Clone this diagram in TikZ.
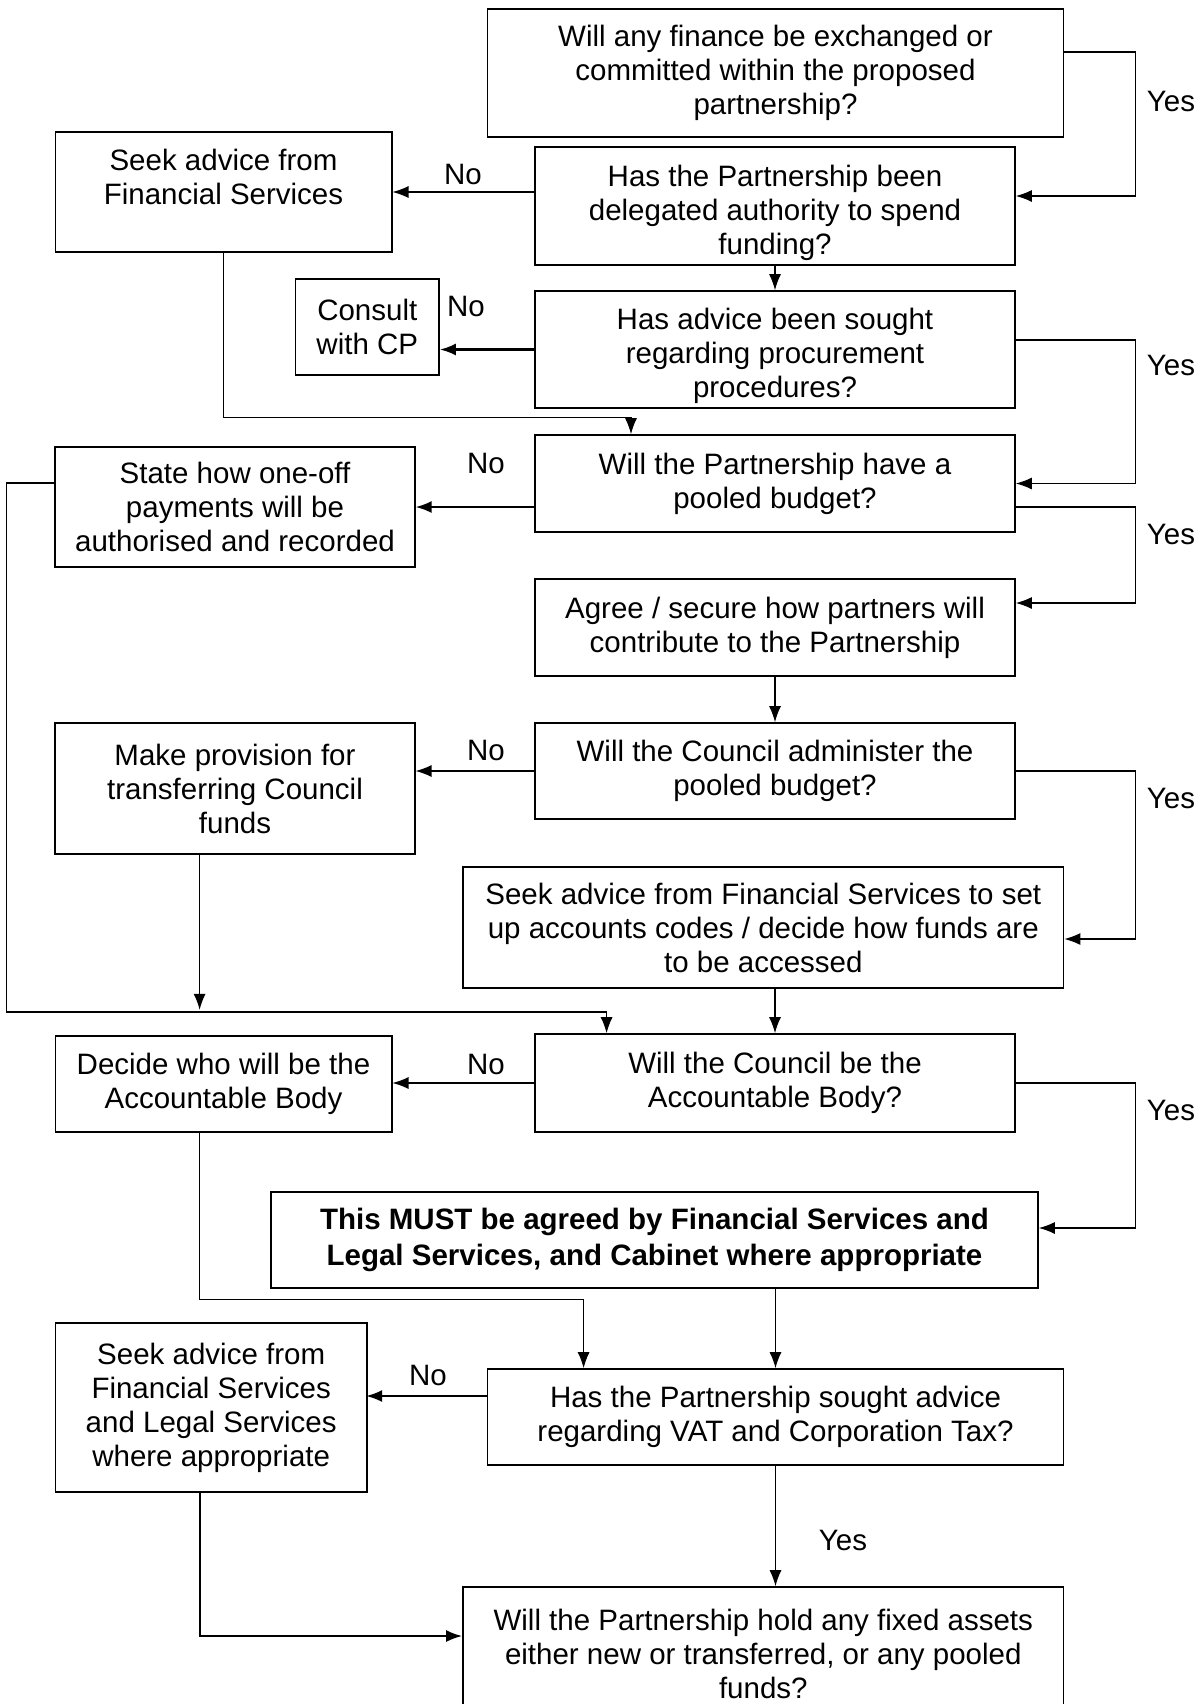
\documentclass[tikz,border=0pt]{standalone}
\usepackage{fontspec}
\setmainfont{Liberation Sans}
\usetikzlibrary{arrows.meta}
\begin{document}
\begin{tikzpicture}[x=0.5pt, y=-0.5pt, >={Latex[length=8pt,width=6pt]}]
    \tikzstyle{box}=[draw, line width=0.85pt, align=center, inner sep=0pt, font=\fontsize{14.75}{17}\selectfont]
    \tikzstyle{boldbox}=[box, font=\fontsize{14.75}{18}\selectfont\bfseries]
    \tikzstyle{lbl}=[font=\fontsize{14.75}{17}\selectfont]
    \tikzstyle{link}=[->, line width=0.6pt]
    \tikzstyle{heavy}=[->, line width=1.1pt]
    \useasboundingbox (0,0) rectangle (1204,1704);
    % questions down the right hand column
    \node[box, minimum width=288pt, minimum height=64pt] (q1) at (775.5,73) {Will any finance be exchanged or\\committed within the proposed\\partnership?};
    \node[box, minimum width=240pt, minimum height=59pt] (q2) at (775,206) {\rule{0pt}{17.5pt}Has the Partnership been\\delegated authority to spend\\funding?};
    \node[box, minimum width=240pt, minimum height=58.5pt] (q3) at (775,349.5) {\rule{0pt}{17.5pt}Has advice been sought\\regarding procurement\\procedures?};
    \node[box, minimum width=240pt, minimum height=48.5pt] (q4) at (775,483.5) {Will the Partnership have a\\pooled budget?};
    \node[box, minimum width=240pt, minimum height=48.5pt] (a1) at (775,627.5) {Agree / secure how partners will\\contribute to the Partnership};
    \node[box, minimum width=240pt, minimum height=48pt] (q5) at (775,771) {Will the Council administer the\\pooled budget?};
    \node[box, minimum width=300.25pt, minimum height=60.5pt] (b1) at (763.3,927.5) {Seek advice from Financial Services to set\\up accounts codes / decide how funds are\\to be accessed};
    \node[box, minimum width=240pt, minimum height=49pt] (q6) at (775,1083) {Will the Council be the\\Accountable Body?};
    \node[boldbox, minimum width=383.5pt, minimum height=48pt] (m2) at (654.5,1240) {This MUST be agreed by Financial Services and\\Legal Services, and Cabinet where appropriate};
    \node[box, minimum width=288pt, minimum height=48pt] (q7) at (775.5,1417) {Has the Partnership sought advice\\regarding VAT and Corporation Tax?};
    \node[box, minimum width=300.25pt, minimum height=66.5pt] (q8) at (763.3,1653.5) {Will the Partnership hold any fixed assets\\either new or transferred, or any pooled\\funds?};
    % actions on the left
    \node[box, minimum width=168.15pt, minimum height=60pt] (f1) at (223.5,192) {Seek advice from\\Financial Services\\[-7pt]\strut};
    \node[box, minimum width=71.7pt, minimum height=48pt] (cp) at (367.3,327) {Consult\\with CP};
    \node[box, minimum width=179.7pt, minimum height=60pt] (s1) at (235,507) {State how one-off\\payments will be\\authorised and recorded};
    \node[box, minimum width=179.7pt, minimum height=65.5pt] (m1) at (235,788.5) {Make provision for\\transferring Council\\funds};
    \node[box, minimum width=168.15pt, minimum height=48pt] (d1) at (223.5,1084) {Decide who will be the\\Accountable Body};
    \node[box, minimum width=155.85pt, minimum height=84.5pt] (l1) at (211.2,1407.5) {Seek advice from\\Financial Services\\and Legal Services\\where appropriate};
    % yes / no
    \node[lbl] (yes1) at (1171,101) {Yes};
    \node[lbl] (yes2) at (1171,365) {Yes};
    \node[lbl] (yes3) at (1171,534) {Yes};
    \node[lbl] (yes4) at (1171,798) {Yes};
    \node[lbl] (yes5) at (1171,1110) {Yes};
    \node[lbl] (yes6) at (843,1540) {Yes};
    \node[lbl] (no1) at (463,174) {No};
    \node[lbl] (no2) at (466,306) {No};
    \node[lbl] (no3) at (486,463) {No};
    \node[lbl] (no4) at (486,750) {No};
    \node[lbl] (no5) at (486,1064) {No};
    \node[lbl] (no6) at (428,1375) {No};
    % connectors
    \draw[link] ([yshift=10.5pt]q1.east) -- ++(71.5,0) |- ([yshift=5pt]q2.east);
    \draw[link] (q2.west |- f1.east) -- (f1.east);
    \draw[link] (q2) -- (q3);
    \draw[heavy] (q3.west) -- (q3.west -| cp.east);
    \draw[link] ([yshift=4.75pt]q3.east) -- ++(120,0) |- (q4.east);
    \draw[link] (f1.south) -- ++(0,165) -| ([xshift=-72pt]q4.north);
    \draw[heavy] (q4.west |- s1.east) -- (s1.east);
    \draw[link] ([yshift=-11.75pt]q4.east) -- ++(120,0) |- ([yshift=12.25pt]a1.east);
    \draw[link] (a1) -- (q5);
    \draw[link] (q5.west) -- (q5.west -| m1.east);
    \draw[link] (q5.east) -- ++(120,0) |- ([yshift=-5.75pt]b1.east);
    \draw[link] ([yshift=12pt]s1.west) -- ++(-47.6,0) -- ++(0,529) -| ([xshift=-84.2pt]q6.north);
    \draw[link] ([xshift=-17.7pt]m1.south) -- ++(0,155);
    \draw[link] (b1.south -| q6.north) -- (q6.north);
    \draw[link] (q6.west) -- (q6.west -| d1.east);
    \draw[link] (q6.east) -- ++(120,0) |- ([yshift=6pt]m2.east);
    \draw[link] ([xshift=-11.95pt]d1.south) -- ++(0,167) -| ([xshift=-95.95pt]q7.north);
    \draw[link] (m2.south -| q7.north) -- (q7.north);
    \draw[heavy] ([yshift=10.5pt]q7.west) -- ++(-120.6,0);
    \draw[link] (q7.south) -- (q7.south |- q8.north);
    \draw[heavy] ([xshift=-5.8pt]l1.south) |- ([yshift=8.75pt]q8.west);
\end{tikzpicture}
\end{document}
